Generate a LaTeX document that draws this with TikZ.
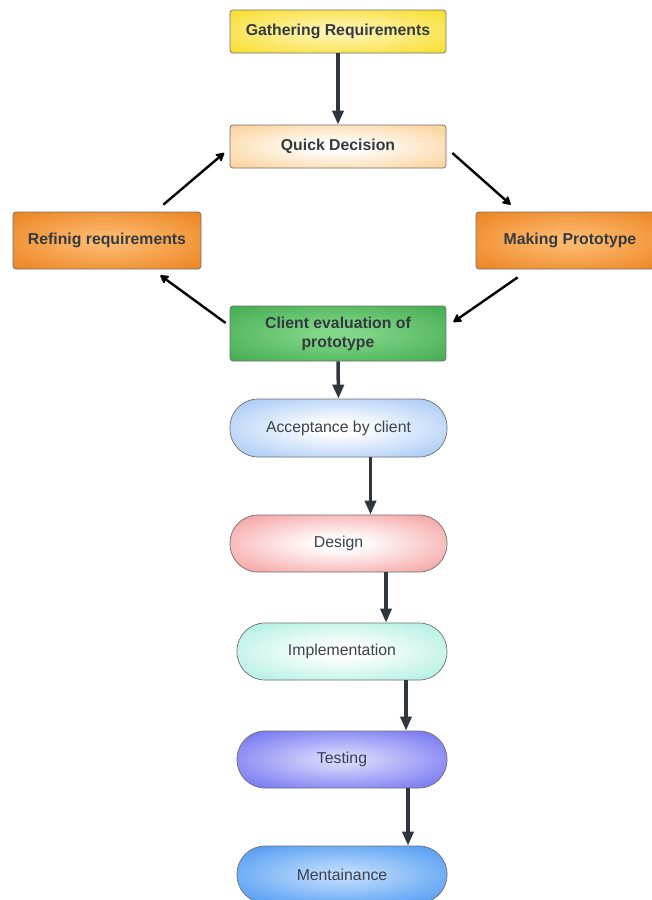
\documentclass[tikz,border=0pt]{standalone}
\usepackage{fontspec}
\setmainfont{Liberation Sans}
\usetikzlibrary{arrows.meta,calc}
\pgfdeclareradialshading[shin,shout]{soft}{\pgfpoint{0bp}{0bp}}{color(0bp)=(shin); color(5bp)=(shin); color(43bp)=(shout); color(60bp)=(shout)}
\definecolor{txtb}{HTML}{353A3E}
\definecolor{txtr}{HTML}{3A4250}
\definecolor{arrv}{HTML}{30363E}
\definecolor{bord}{HTML}{707070}
\tikzset{
  fillc/.style 2 args={/utils/exec={\definecolor{shin}{HTML}{#1}\definecolor{shout}{HTML}{#2}}, shading=soft},
  box/.style={draw=bord, line width=0.7pt, rounded corners=3pt, inner sep=0pt,
    font=\fontsize{15.8}{19}\selectfont\bfseries, text=txtb, align=center},
  pill/.style={draw=bord, line width=0.7pt, rounded corners=28pt, inner sep=0pt,
    font=\fontsize{15.8}{19}\selectfont, text=txtr, align=center},
  varr/.style={line width=3.5pt, draw=arrv, -{Triangle[length=14pt,width=11pt]}},
  darr/.style={line width=2.4pt, draw=black, -{Stealth[round,length=10pt,width=11pt,inset=2.5pt]}},
}
\begin{document}
\begin{tikzpicture}[x=1pt,y=-1pt]
\useasboundingbox (0,0) rectangle (652,900);
\clip (0,0) rectangle (652,900);
\fill[white] (0,0) rectangle (652,900);

\node[box, fillc={FFF3AE}{F5D80A}, minimum width=216pt, minimum height=43pt] (gather) at (338,31.5) {Gathering Requirements};
\node[box, fillc={FFFFFF}{FBC47A}, minimum width=216pt, minimum height=43pt] (quick) at (338,146.5) {Quick Decision};
\node[box, fillc={FCB86C}{E8760E}, minimum width=188pt, minimum height=57pt] (refine) at (107,240.5) {Refinig requirements};
\node[box, fillc={FCB86C}{E8760E}, minimum width=188pt, minimum height=57pt] (making) at (570,240.5) {Making Prototype};
\node[box, fillc={80D788}{36A044}, minimum width=216pt, minimum height=55pt] (client) at (338,333.5) {Client evaluation of\\prototype};

\node[pill, fillc={FFFFFF}{88B6F2}, minimum width=217pt, minimum height=58pt] (accept) at (338.5,428) {Acceptance by client};
\node[pill, fillc={FFFFFF}{F28080}, minimum width=217pt, minimum height=57pt] (design) at (338.5,543.5) {Design};
\node[pill, fillc={FFFFFF}{94EAD8}, minimum width=210pt, minimum height=57pt] (impl) at (342,651.5) {Implementation};
\node[pill, fillc={D2D2FC}{5353EE}, minimum width=210pt, minimum height=57pt] (test) at (342,759.5) {Testing};
\node[pill, fillc={B8D8FB}{2E86F0}, minimum width=210pt, minimum height=57pt] (maint) at (342,874.5) {Mentainance};

% vertical connectors
\draw[varr] (gather.south) -- (quick.north);
\draw[varr] (client.south) -- (accept.north);
\draw[varr] ($(accept.south)+(32,0)$) -- ($(design.north)+(32,0)$);
\draw[varr] ($(design.south)+(47.5,0)$) -- ($(impl.north)+(44,0)$);
\draw[varr] ($(impl.south)+(64,0)$) -- ($(test.north)+(64,0)$);
\draw[varr] ($(test.south)+(66,0)$) -- ($(maint.north)+(66,0)$);

% loop connectors
\draw[darr] ($(quick.east)+(6,6.5)$) -- ($(making.north west)+(35,-7)$);
\draw[darr] ($(making.south west)+(42,8)$) -- ($(client.east)+(7,-11.5)$);
\draw[darr] ($(client.west)+(-4,-10.5)$) -- ($(refine.south east)+(-41,6)$);
\draw[darr] ($(refine.north east)+(-38,-7)$) -- ($(quick.west)+(-5.5,6.5)$);
\end{tikzpicture}
\end{document}
